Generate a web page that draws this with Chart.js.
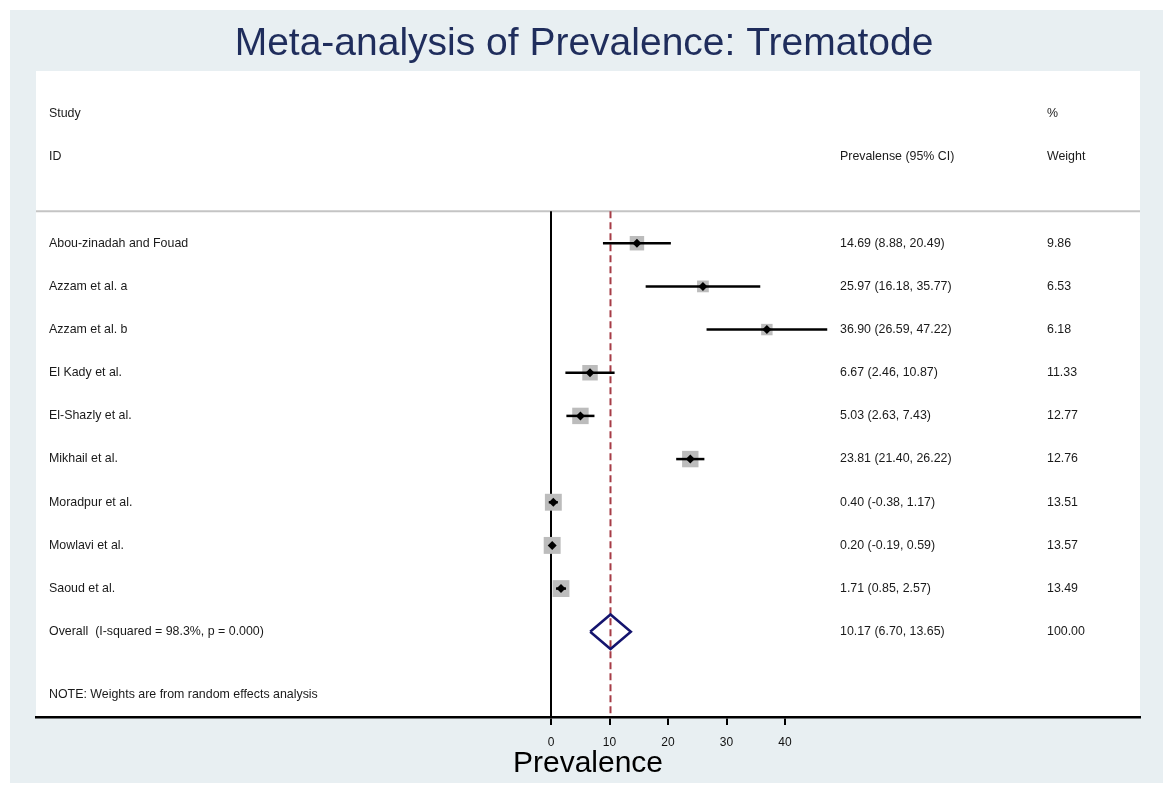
<!DOCTYPE html>
<html>
<head>
<meta charset="utf-8">
<script src="https://cdn.jsdelivr.net/npm/chart.js@4"></script>
<style>
  html, body { margin: 0; padding: 0; background: #ffffff; }
  #wrap { width: 1163px; height: 785px; }
</style>
</head>
<body>
<div id="wrap"><canvas id="chart"></canvas></div>
<script>
// study rows
const studies = ['Abou-zinadah and Fouad', 'Azzam et al. a', 'Azzam et al. b', 'El Kady et al.',
    'El-Shazly et al.', 'Mikhail et al.', 'Moradpur et al.', 'Mowlavi et al.', 'Saoud et al.']
const estimates = [14.69, 25.97, 36.90, 6.67, 5.03, 23.81, 0.40, 0.20, 1.71]
const lowerCI = [8.88, 16.18, 26.59, 2.46, 2.63, 21.40, -0.38, -0.19, 0.85]
const upperCI = [20.49, 35.77, 47.22, 10.87, 7.43, 26.22, 1.17, 0.59, 2.57]
const weights = [9.86, 6.53, 6.18, 11.33, 12.77, 12.76, 13.51, 13.57, 13.49]

// pooled result
const overallLabel = 'Overall  (I-squared = 98.3%, p = 0.000)'
const overallEst = 10.17
const overallLo = 6.70
const overallHi = 13.65
const overallWeight = 100.00

const tickValues = [0, 10, 20, 30, 40]
const noteText = 'NOTE: Weights are from random effects analysis'

// row index of each study (1..9), overall sits on row 10
const rowOf = i => i + 1
const overallRow = studies.length + 1
const topLineRow = 0.26
const bottomRow = 11.975

function fmt(v) { return v.toFixed(2) }

const datasets = []

// grey weight boxes
datasets.push({
    type: 'scatter',
    data: estimates.map((v, i) => ({ x: v, y: rowOf(i) })),
    pointStyle: 'rect',
    pointRadius: weights.map(w => 3.25 * Math.sqrt(w)),
    pointHoverRadius: weights.map(w => 3.25 * Math.sqrt(w)),
    backgroundColor: '#bcbcbc',
    borderColor: '#bcbcbc',
    borderWidth: 0,
    order: 5
})

// confidence interval lines
estimates.forEach((v, i) => {
    datasets.push({
        type: 'line',
        data: [{ x: lowerCI[i], y: rowOf(i) }, { x: upperCI[i], y: rowOf(i) }],
        borderColor: '#000000',
        borderWidth: 2.5,
        pointRadius: 0,
        order: 3
    })
})

// black point estimates
datasets.push({
    type: 'scatter',
    data: estimates.map((v, i) => ({ x: v, y: rowOf(i) })),
    pointStyle: 'rectRot',
    pointRadius: 4.5,
    backgroundColor: '#000000',
    borderColor: '#000000',
    borderWidth: 0,
    order: 1
})

// null line at zero
datasets.push({
    type: 'line',
    data: [{ x: 0, y: topLineRow }, { x: 0, y: bottomRow }],
    borderColor: '#000000',
    borderWidth: 2,
    pointRadius: 0,
    order: 6
})

// dashed pooled estimate line
datasets.push({
    type: 'line',
    data: [{ x: overallEst, y: topLineRow }, { x: overallEst, y: bottomRow }],
    borderColor: '#a63c46',
    borderWidth: 2,
    borderDash: [7, 4],
    pointRadius: 0,
    order: 4
})

// overall diamond
datasets.push({
    type: 'line',
    data: [
        { x: overallLo, y: overallRow },
        { x: overallEst, y: overallRow - 0.4 },
        { x: overallHi, y: overallRow },
        { x: overallEst, y: overallRow + 0.4 },
        { x: overallLo, y: overallRow }
    ],
    borderColor: '#14146e',
    borderWidth: 2.5,
    borderJoinStyle: 'miter',
    pointRadius: 0,
    fill: false,
    order: 2
})

const forestPlugin = {
    id: 'forest',
    beforeDraw(chart) {
        const ctx = chart.ctx
        const a = chart.chartArea
        ctx.save()
        ctx.fillStyle = '#ffffff'
        ctx.fillRect(0, 0, chart.width, chart.height)
        ctx.fillStyle = '#e8eff2'
        ctx.fillRect(10, 10, chart.width - 10, chart.height - 12)
        ctx.fillStyle = '#ffffff'
        ctx.fillRect(a.left, a.top, a.right - a.left, a.bottom - a.top)

        // title
        ctx.fillStyle = '#1f2d5c'
        ctx.font = '39px "Liberation Sans", Arial, sans-serif'
        ctx.textAlign = 'center'
        ctx.textBaseline = 'middle'
        ctx.fillText('Meta-analysis of Prevalence: Trematode', 584, 44)

        // header separator
        const ys = chart.scales.y
        const yLine = ys.getPixelForValue(topLineRow)
        ctx.strokeStyle = '#c4c4c4'
        ctx.lineWidth = 2
        ctx.beginPath()
        ctx.moveTo(a.left, yLine)
        ctx.lineTo(a.right, yLine)
        ctx.stroke()
        ctx.restore()
    },
    afterDraw(chart) {
        const ctx = chart.ctx
        const ys = chart.scales.y
        const colLabel = 49
        const colEst = 840
        const colWeight = 1047
        ctx.save()
        ctx.fillStyle = '#1a1a1a'
        ctx.font = '12.4px "Liberation Sans", Arial, sans-serif'
        ctx.textAlign = 'left'
        ctx.textBaseline = 'middle'

        ctx.fillText('Study', colLabel, ys.getPixelForValue(-2))
        ctx.fillText('%', colWeight, ys.getPixelForValue(-2))
        ctx.fillText('ID', colLabel, ys.getPixelForValue(-1))
        ctx.fillText('Prevalense (95% CI)', colEst, ys.getPixelForValue(-1))
        ctx.fillText('Weight', colWeight, ys.getPixelForValue(-1))

        studies.forEach((s, i) => {
            const y = ys.getPixelForValue(rowOf(i))
            ctx.fillText(s, colLabel, y)
            ctx.fillText(fmt(estimates[i]) + ' (' + fmt(lowerCI[i]) + ', ' + fmt(upperCI[i]) + ')', colEst, y)
            ctx.fillText(fmt(weights[i]), colWeight, y)
        })

        const yo = ys.getPixelForValue(overallRow)
        ctx.fillText(overallLabel, colLabel, yo)
        ctx.fillText(fmt(overallEst) + ' (' + fmt(overallLo) + ', ' + fmt(overallHi) + ')', colEst, yo)
        ctx.fillText(fmt(overallWeight), colWeight, yo)

        ctx.fillText(noteText, colLabel, ys.getPixelForValue(11.46))
        ctx.restore()
    }
}

const ctx = document.getElementById('chart').getContext('2d')
const myChart = new Chart(ctx, {
    type: 'scatter',
    data: { datasets: datasets },
    options: {
        responsive: true,
        maintainAspectRatio: false,
        animation: false,
        layout: {
            padding: { left: 36, right: 23, top: 71, bottom: 4 }
        },
        scales: {
            x: {
                type: 'linear',
                min: (36 - 551) / 5.85,
                max: (1140 - 551) / 5.85,
                afterBuildTicks: scale => {
                    scale.ticks = tickValues.map(v => ({ value: v }))
                },
                border: { display: true, color: '#000000', width: 2.5 },
                grid: {
                    drawOnChartArea: false,
                    drawTicks: true,
                    tickLength: 8,
                    color: '#000000',
                    lineWidth: 2
                },
                ticks: {
                    color: '#111111',
                    padding: 12,
                    maxRotation: 0,
                    autoSkip: false,
                    font: { family: '"Liberation Sans", Arial, sans-serif', size: 12, lineHeight: 1 }
                },
                title: {
                    display: true,
                    text: 'Prevalence',
                    color: '#000000',
                    padding: { top: -12, bottom: 2 },
                    font: { family: '"Liberation Sans", Arial, sans-serif', size: 30, lineHeight: 1 }
                }
            },
            y: {
                type: 'linear',
                display: false,
                reverse: true,
                min: -2.99,
                max: bottomRow
            }
        },
        plugins: {
            legend: { display: false },
            tooltip: { enabled: false }
        }
    },
    plugins: [forestPlugin]
})
</script>
</body>
</html>
